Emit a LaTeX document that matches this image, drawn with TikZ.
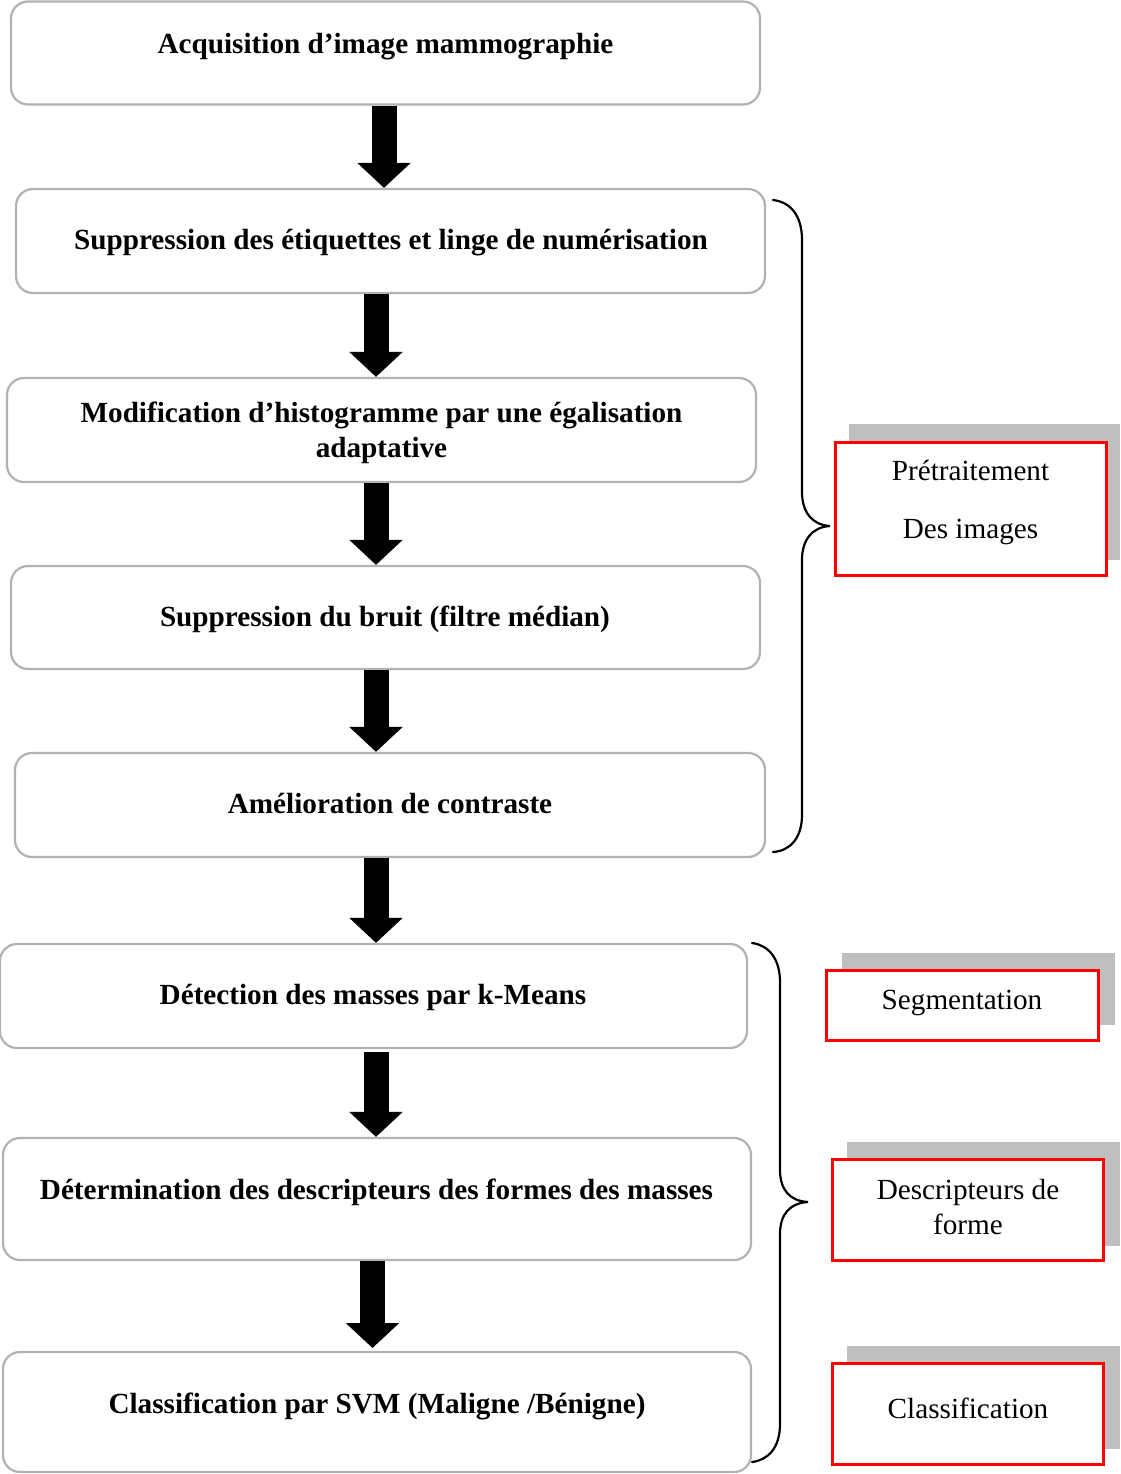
\documentclass[tikz,border=0pt]{standalone}
\usepackage{fontspec}
\setmainfont{Liberation Serif}
\usetikzlibrary{arrows.meta}
\definecolor{boxgray}{RGB}{178,178,178}
\definecolor{shadowgray}{RGB}{191,191,191}
\begin{document}
\begin{tikzpicture}[x=1pt,y=-1pt,
  stepbox/.style={draw=boxgray, line width=2.2pt, rounded corners=17pt, fill=white, inner sep=0pt},
  steptext/.style={font=\fontsize{29.2}{35}\selectfont\bfseries, align=center, inner sep=0pt},
  blockarrow/.style={line width=25pt, -{Triangle[width=52pt,length=25pt]}},
  labelbox/.style={draw=red, line width=3pt, fill=white, inner sep=0pt},
  shadowbox/.style={fill=shadowgray, inner sep=0pt},
  labeltext/.style={font=\fontsize{29.2}{35}\selectfont, align=center, inner sep=0pt},
  bracepath/.style={line width=2.2pt, line cap=round}]
\useasboundingbox (0,0) rectangle (1120,1474);

% left process boxes
\node[stepbox, minimum width=749pt, minimum height=103pt] (b1) at (385.5,53) {};
\node[stepbox, minimum width=749pt, minimum height=104pt] (b2) at (390.5,241) {};
\node[stepbox, minimum width=749pt, minimum height=104pt] (b3) at (381.5,430) {};
\node[stepbox, minimum width=749pt, minimum height=103pt] (b4) at (385.5,617.5) {};
\node[stepbox, minimum width=750pt, minimum height=104pt] (b5) at (390,805) {};
\node[stepbox, minimum width=747pt, minimum height=104pt] (b6) at (373.5,996) {};
\node[stepbox, minimum width=748pt, minimum height=122pt] (b7) at (377,1199) {};
\node[stepbox, minimum width=748pt, minimum height=120pt] (b8) at (377,1412) {};

\node[steptext] (t1) at (385.5,47) {Acquisition d’image mammographie};
\node[steptext] (t2) at (391,243) {Suppression des étiquettes et linge de numérisation};
\node[steptext] (t3) at (381.5,433) {Modification d’histogramme par une égalisation\\adaptative};
\node[steptext] (t4) at (385,619) {Suppression du bruit (filtre médian)};
\node[steptext] (t5) at (390,803) {Amélioration de contraste};
\node[steptext] (t6) at (373,997) {Détection des masses par k-Means};
\node[steptext] (t7) at (376.5,1192) {Détermination des descripteurs des formes des masses};
\node[steptext] (t8) at (377,1406) {Classification par SVM (Maligne /Bénigne)};

% block arrows
\draw[blockarrow] (384,0 |- b1.south) -- (384,0 |- b2.north);
\draw[blockarrow] (376,0 |- b2.south) -- (376,0 |- b3.north);
\draw[blockarrow] (376,0 |- b3.south) -- (376,0 |- b4.north);
\draw[blockarrow] (376,0 |- b4.south) -- (376,0 |- b5.north);
\draw[blockarrow] (376,0 |- b5.south) -- (376,0 |- b6.north);
\draw[blockarrow] (376,1052) -- (376,0 |- b7.north);
\draw[blockarrow] (372.5,0 |- b7.south) -- (372.5,1348);

% braces
\draw[bracepath] (773,200) .. controls (790,202) and (802,215) .. (802,240)
  -- (802,492) .. controls (802,512) and (812,525) .. (830,526)
  .. controls (812,527) and (802,540) .. (802,560)
  -- (802,815) .. controls (802,838) and (790,851) .. (773,852);
\draw[bracepath] (752,943) .. controls (768,945) and (780,958) .. (780,982)
  -- (780,1170) .. controls (780,1190) and (790,1201) .. (808,1202)
  .. controls (790,1203) and (780,1214) .. (780,1234)
  -- (780,1424) .. controls (780,1448) and (768,1460) .. (752,1462);

% right label boxes with shadows
\fill[shadowgray] (849,424) rectangle (1120,560);
\node[labelbox, minimum width=271pt, minimum height=133pt] (r1) at (970.5,508.5) {};
\node[labeltext] (l1) at (970.5,502.5) {Prétraitement\\[23pt]Des images};

\fill[shadowgray] (842,953) rectangle (1115,1025);
\node[labelbox, minimum width=272pt, minimum height=70pt] (r2) at (962,1005) {};
\node[labeltext] (l2) at (962,1003) {Segmentation};

\fill[shadowgray] (847,1142) rectangle (1120,1246);
\node[labelbox, minimum width=271pt, minimum height=101pt] (r3) at (968,1210) {};
\node[labeltext] (l3) at (968,1206.5) {Descripteurs de\\forme};

\fill[shadowgray] (847,1346) rectangle (1120,1449);
\node[labelbox, minimum width=271pt, minimum height=101pt] (r4) at (968,1413.5) {};
\node[labeltext] (l4) at (968,1408) {Classification};
\end{tikzpicture}
\end{document}
